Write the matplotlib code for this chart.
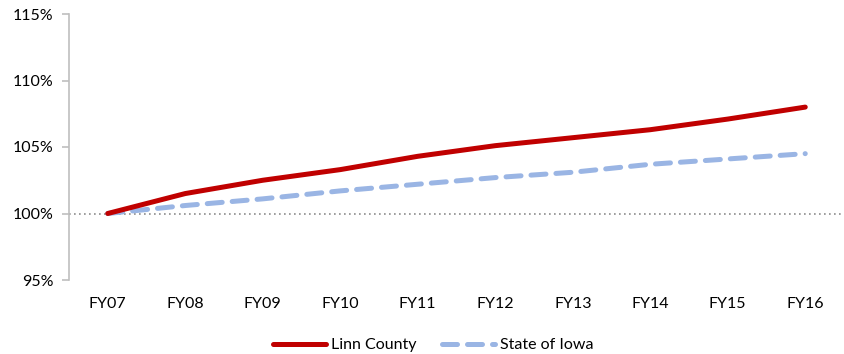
import matplotlib
matplotlib.use("Agg")
import matplotlib.pyplot as plt
from matplotlib.ticker import FuncFormatter

years = ["FY07", "FY08", "FY09", "FY10", "FY11", "FY12", "FY13", "FY14", "FY15", "FY16"]
linn = [100.0, 101.5, 102.5, 103.3, 104.3, 105.1, 105.7, 106.3, 107.1, 108.0]
iowa = [100.0, 100.6, 101.1, 101.7, 102.2, 102.7, 103.1, 103.7, 104.1, 104.5]
yticks = [95, 100, 105, 110, 115]

plt.rcParams['font.family'] = ['Lato', 'DejaVu Sans']

fig = plt.figure(figsize=(8.45, 3.54), dpi=100)
ax = fig.add_axes([69/845, 1-280/354, (844-69)/845, (280-14)/354])

x = list(range(len(years)))
ax.axhline(100, color='#8c8c8c', linestyle=(0, (1, 2)), linewidth=1.2, zorder=1)
ax.plot(x, linn, color='#C00000', linewidth=3.6, solid_capstyle='round', label='Linn County', zorder=3)
ax.plot(x, iowa, color='#9AB5E4', linewidth=3.6, linestyle=(0, (3, 2.0)), dash_capstyle='round',
        label='State of Iowa', zorder=2)

ax.set_xlim(-0.5, len(years) - 0.5)
ax.set_ylim(95, 115)
ax.set_yticks(yticks)
ax.yaxis.set_major_formatter(FuncFormatter(lambda v, p: "%d%%" % v))
ax.set_xticks(x)
ax.set_xticklabels(years)

for s in ['top', 'right', 'bottom']:
    ax.spines[s].set_visible(False)
ax.spines['left'].set_color('#BFBFBF')
ax.spines['left'].set_linewidth(1.2)
ax.tick_params(axis='y', colors='#BFBFBF', labelcolor='black', length=5, width=1.2, labelsize=11.5, pad=6)
ax.tick_params(axis='x', length=0, labelsize=11.5, pad=12)

ax.legend(loc='upper center', bbox_to_anchor=(0.47, -0.165), ncol=2, frameon=False, fontsize=11.5,
          handlelength=3.3, handletextpad=0.3, columnspacing=1.6)

fig.savefig("out.png", dpi=100)
